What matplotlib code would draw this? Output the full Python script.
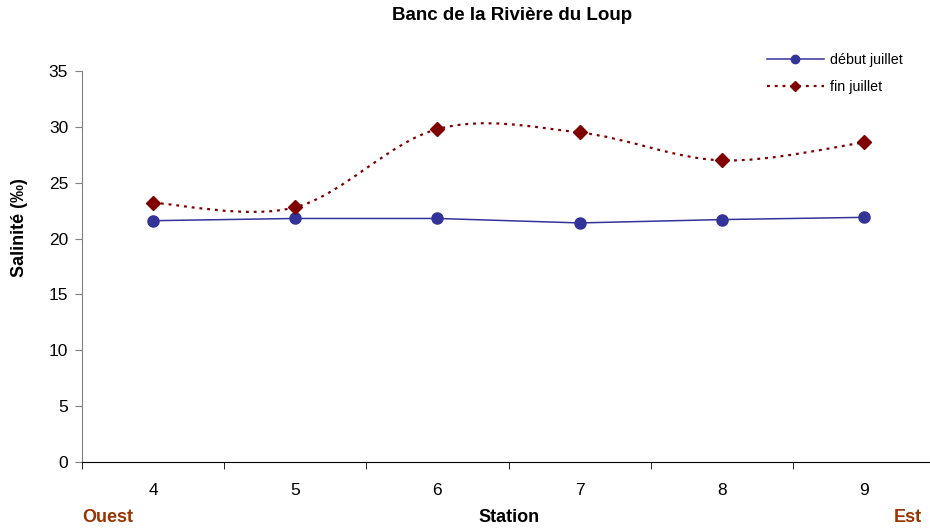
import numpy as np
import matplotlib
matplotlib.use("Agg")
import matplotlib.pyplot as plt
from matplotlib.path import Path
from matplotlib.patches import PathPatch
from matplotlib.lines import Line2D

plt.rcParams["font.family"] = ["Liberation Sans", "DejaVu Sans"]

# ---------------- data ----------------
stations = ["4", "5", "6", "7", "8", "9"]
debut_juillet = [21.6, 21.8, 21.8, 21.4, 21.7, 21.9]
fin_juillet = [23.2, 22.8, 29.8, 29.5, 27.0, 28.6]

BLUE = "#333399"
RED = "#800000"
BROWN = "#993300"


def smooth_path(xs, ys):
    """Excel-like smoothed line: Catmull-Rom as cubic Bezier segments."""
    p = np.column_stack([xs, ys]).astype(float)
    pts = np.vstack([p[0], p, p[-1]])
    verts = [tuple(p[0])]
    codes = [Path.MOVETO]
    for i in range(1, len(pts) - 2):
        p0, p1, p2, p3 = pts[i - 1], pts[i], pts[i + 1], pts[i + 2]
        c1 = p1 + (p2 - p0) / 6.0
        c2 = p2 - (p3 - p1) / 6.0
        verts += [tuple(c1), tuple(c2), tuple(p2)]
        codes += [Path.CURVE4] * 3
    return Path(verts, codes)


fig = plt.figure(figsize=(9.3, 5.31), dpi=100)
ax = fig.add_axes([82 / 930, 69 / 531, 853 / 930, 391 / 531])

x = np.arange(len(stations))

ax.plot(x, debut_juillet, "-", color=BLUE, lw=1.1, marker="o", ms=8,
        mfc=BLUE, mec=BLUE, zorder=3)

ax.add_patch(PathPatch(smooth_path(x, fin_juillet), fill=False, ec=RED,
                       lw=1.6, ls=(0, (1.3, 2.2)), zorder=3))
ax.plot(x, fin_juillet, ls="none", marker="D", ms=7, mfc=RED, mec=RED, zorder=4)

ax.set_xlim(-0.5, len(stations) - 0.5)
ax.set_ylim(0, 35)
ax.set_yticks(np.arange(0, 36, 5))
ax.set_xticks(x)
ax.set_xticklabels(stations)
ax.set_xticks(np.arange(-0.5, len(stations), 1.0), minor=True)
ax.tick_params(axis="x", which="major", length=0, pad=15, labelsize=12.5)
ax.tick_params(axis="x", which="minor", length=5, direction="out", color="black")
ax.tick_params(axis="y", length=5, direction="out", color="#808080", labelsize=12.5, pad=5)

for s in ["top", "right"]:
    ax.spines[s].set_visible(False)
ax.spines["left"].set_color("#808080")
ax.spines["bottom"].set_color("black")

fig.text(512 / 930, 1 - 16 / 531, "Banc de la Rivière du Loup", ha="center",
         va="center", fontsize=13.5, fontweight="bold")
fig.text(20 / 930, 1 - 228 / 531, "Salinité (‰)", rotation=90, ha="center",
         va="center", fontsize=13, fontweight="bold")
fig.text(509 / 930, 1 - 518 / 531, "Station", ha="center", va="center",
         fontsize=13, fontweight="bold")
fig.text(82 / 930, 1 - 518 / 531, "Ouest", ha="left", va="center",
         fontsize=13, fontweight="bold", color=BROWN)
fig.text(922 / 930, 1 - 518 / 531, "Est", ha="right", va="center",
         fontsize=13, fontweight="bold", color=BROWN)

handles = [
    Line2D([], [], color=BLUE, lw=1.1, marker="o", ms=6, mfc=BLUE, mec=BLUE),
    Line2D([], [], color=RED, lw=1.6, ls=(0, (1.3, 2.2)), marker="D", ms=5,
           mfc=RED, mec=RED),
]
fig.legend(handles, ["début juillet", "fin juillet"], loc="upper left",
           bbox_to_anchor=(754 / 930, 1 - 40 / 531), frameon=False,
           fontsize=10.3, handlelength=4.0, labelspacing=0.95, handletextpad=0.4)

fig.savefig("out.png", dpi=100)
